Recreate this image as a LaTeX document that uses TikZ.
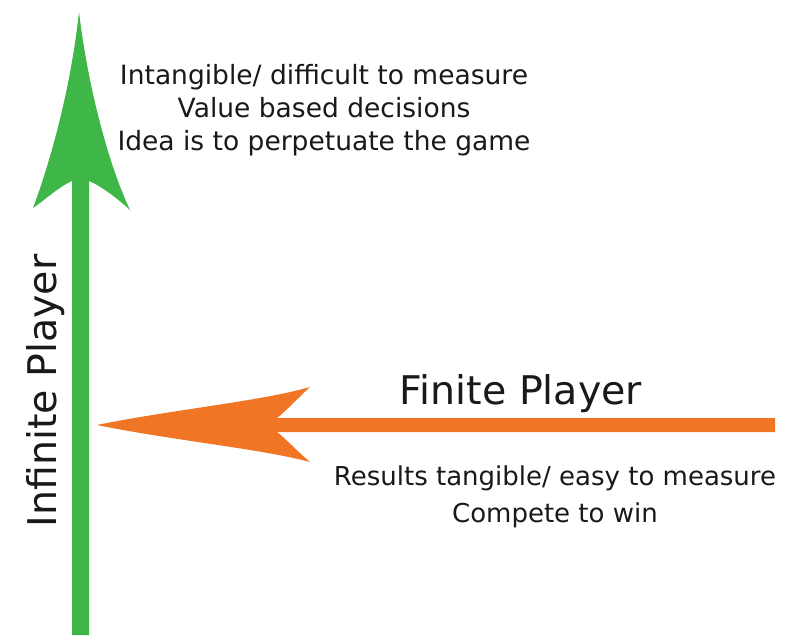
\documentclass[tikz,border=0pt]{standalone}
\usepackage{fontspec}
\setmainfont{DejaVu Sans}
\definecolor{axisgreen}{RGB}{62,182,72}
\definecolor{axisorange}{RGB}{240,118,38}
\begin{document}
\begin{tikzpicture}[x=1pt,y=-1pt,
  note/.style={align=center,font=\fontsize{26.5}{33}\selectfont,inner sep=0pt,text=black!90},
  title/.style={font=\fontsize{39.5}{42}\selectfont,inner sep=0pt,text=black!90}]
\useasboundingbox[fill=white] (0,0) rectangle (795,642);

% vertical axis: infinite player
\fill[axisgreen] (79,12) .. controls (70,95) and (48,168) .. (33,208)
  .. controls (46,199) and (60,186) .. (72,181)
  -- (72,635) -- (89,635) -- (89,181)
  .. controls (101,186) and (117,198) .. (130,210)
  .. controls (111,170) and (89,95) .. (79,12) -- cycle;

% horizontal axis: finite player
\fill[axisorange] (97,425) .. controls (170,410) and (262,401) .. (310,387)
  .. controls (296,400) and (286,411) .. (277,418)
  -- (775,418) -- (775,432) -- (277,432)
  .. controls (286,439) and (296,450) .. (310,462)
  .. controls (262,449) and (170,440) .. (97,425) -- cycle;

% node base = baseline of the last line
\node[note,anchor=base] (inftext) at (324,150)
  {Intangible/ difficult to measure\\Value based decisions\\Idea is to perpetuate the game};
\node[title,anchor=base,rotate=90] (inflabel) at (56,391) {Infinite Player};
\node[title,anchor=base] (finlabel) at (521,404) {Finite Player};
\node[note,anchor=base,font=\fontsize{26}{37}\selectfont] (fintext) at (555,522)
  {Results tangible/ easy to measure\\Compete to win};
\end{tikzpicture}
\end{document}
